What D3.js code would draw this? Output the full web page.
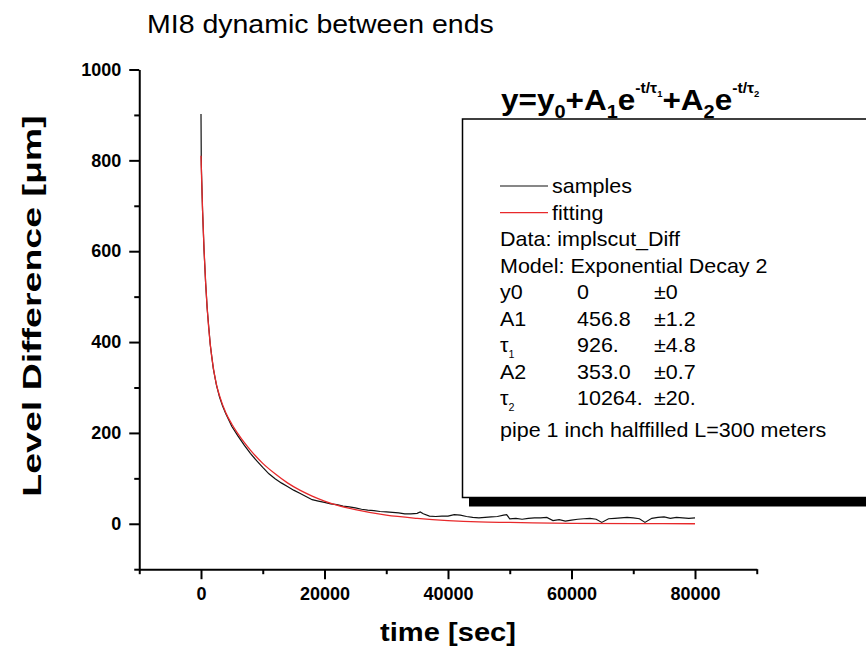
<!DOCTYPE html>
<html><head><meta charset="utf-8">
<script src="https://cdn.jsdelivr.net/npm/d3@7"></script>
<style>
body{margin:0;background:#fff}
svg{display:block}
text{font-family:"Liberation Sans",Arial,Helvetica,sans-serif}
</style>
</head><body>
<svg id="c" width="866" height="651"></svg>
<script>
// ---- data ----
const sampleTime = [
  0, 50, 250, 500, 750, 1000, 1500, 2000, 2500, 3000,
  3500, 4000, 5000, 6000, 7000, 8000, 9000, 10000, 11000, 12000,
  13000, 14000, 15000, 16000, 17000, 18000, 19000, 20000, 21000, 22000,
  23000, 24000, 25000, 26000, 27000, 28000, 29000, 30000, 31000, 32000,
  33000, 34000, 35000, 35500, 36000, 37000, 38000, 39000, 40000, 41000,
  42000, 43000, 44000, 45000, 46000, 47000, 48000, 49000, 49500, 50000,
  51000, 52000, 53000, 54000, 55000, 56000, 57000, 58000, 59000, 60000,
  61000, 62000, 63000, 64000, 64900, 66000, 67000, 68000, 69000, 70000,
  71000, 71900, 73000, 74000, 75000, 76000, 77000, 78000, 79000, 80000
];
const sampleLevel = [
  902, 790, 690, 600, 530, 474, 394, 341, 305, 279,
  259, 243, 214, 193, 173, 155, 139, 124, 110, 99,
  90, 82, 74, 67, 60, 53, 50, 47, 44, 42,
  39, 37, 35, 32, 30, 29, 27, 26, 25, 24,
  22, 22, 23, 26, 22, 17, 16, 17, 17, 20,
  19, 16, 14, 13, 14, 15, 16, 19, 20, 11,
  12, 10, 12, 13, 13, 14, 7, 9, 6, 8,
  10, 11, 12, 10, 3, 11, 12, 13, 14, 13,
  11, 3, 12, 14, 15, 12, 14, 13, 12, 13
];
const fitTime = [0, 100, 250, 500, 750, 1000, 1500, 2000, 2500, 3000, 4000, 5000, 6000, 7000, 8000,
  10000, 12000, 14000, 16000, 18000, 20000, 22000, 25000, 30000, 35000, 40000, 45000, 50000, 60000, 70000, 80000];
const fitLevel = [810, 760, 693, 602, 531, 475, 395, 343, 307, 282, 245, 219, 198, 179, 162,
  133, 110, 90, 74, 61, 50, 41, 31, 19, 12, 7, 4, 3, 1, 0.4, 0.1];

const xMajorTicks = [0, 20000, 40000, 60000, 80000];
const xMinorTicks = [-10000, 10000, 30000, 50000, 70000, 90000];
const yMajorTicks = [0, 200, 400, 600, 800, 1000];
const yMinorTicks = [-100, 100, 300, 500, 700, 900];

const legendSeries = ["samples", "fitting"];
const infoLines = ["Data: implscut_Diff", "Model: Exponential Decay 2"];
const paramNames = ["y0", "A1", "τ", "A2", "τ"];
const paramSubs = ["", "", "1", "", "2"];
const paramValues = ["0", "456.8", "926.", "353.0", "10264."];
const paramErrors = ["±0", "±1.2", "±4.8", "±0.7", "±20."];
const noteLine = "pipe 1 inch halffilled L=300 meters";

const titleText = "MI8 dynamic between ends";
const xLabel = "time [sec]";
const yLabel = "Level Difference [μm]";

// ---- drawing ----
const svg = d3.select("#c");
const x = d3.scaleLinear().domain([-10000, 90000]).range([139.25, 756.75]);
const y = d3.scaleLinear().domain([-100, 1000]).range([569.2, 69.5]);

const BLACK = "#111";
const RED = "#e8292b";

function stext(g, str, px, py, opts) {
  const t = g.append("text")
    .attr("transform", `translate(${px},${py}) rotate(${opts.rot || 0}) scale(${opts.sx || 1},1)`)
    .attr("font-size", opts.size)
    .attr("font-weight", opts.weight || "normal")
    .attr("text-anchor", opts.anchor || "start")
    .attr("fill", "#000")
    .text(str);
  return t;
}

// title
stext(svg, titleText, 147, 33, {size: 25, sx: 1.14});

// axes
const fmt = d3.format("d");
const yAx = svg.append("g").attr("transform", `translate(${x(-10000)},0)`)
  .call(d3.axisLeft(y).tickValues(yMajorTicks).tickFormat(fmt).tickSize(10).tickSizeOuter(0).tickPadding(8));
const yMin = svg.append("g").attr("transform", `translate(${x(-10000)},0)`)
  .call(d3.axisLeft(y).tickValues(yMinorTicks).tickSize(5).tickFormat(""));
yMin.select(".domain").remove();
const xAx = svg.append("g").attr("transform", `translate(0,${y(-100)})`)
  .call(d3.axisBottom(x).tickValues(xMajorTicks).tickFormat(fmt).tickSize(10).tickSizeOuter(0).tickPadding(8));
const xMin = svg.append("g").attr("transform", `translate(0,${y(-100)})`)
  .call(d3.axisBottom(x).tickValues(xMinorTicks).tickSize(5).tickFormat(""));
xMin.select(".domain").remove();

svg.selectAll(".domain").attr("stroke", "#000").attr("stroke-width", 2);
svg.selectAll(".tick line").attr("stroke", "#000").attr("stroke-width", 2);
svg.selectAll(".tick text").attr("font-size", 18).attr("font-weight", "bold")
  .attr("fill", "#000").attr("font-family", '"Liberation Sans",Arial,sans-serif');

// axis labels
stext(svg, xLabel, 448, 641, {size: 26, weight: "bold", anchor: "middle", sx: 1.12});
stext(svg, yLabel, 41, 306, {size: 25, weight: "bold", anchor: "middle", rot: -90, sx: 1.5});

// series
const line = d3.line().x(d => x(d[0])).y(d => y(d[1]));
const samples = sampleTime.map((t, i) => [t, sampleLevel[i]]);
const fit = fitTime.map((t, i) => [t, fitLevel[i]]);
svg.append("path").datum(samples).attr("d", line)
  .attr("fill", "none").attr("stroke", BLACK).attr("stroke-width", 1.2);
svg.append("path").datum(fit).attr("d", line.curve(d3.curveMonotoneX))
  .attr("fill", "none").attr("stroke", RED).attr("stroke-width", 1.3);

// formula
const ft = svg.append("text")
  .attr("transform", "translate(501,110) scale(1.05,1)")
  .attr("font-size", 30).attr("font-weight", "bold").attr("fill", "#000");
ft.append("tspan").text("y=y");
ft.append("tspan").attr("font-size", 19).attr("dy", 8).text("0");
ft.append("tspan").attr("dy", -8).text("+A");
ft.append("tspan").attr("font-size", 19).attr("dy", 8).text("1");
ft.append("tspan").attr("dy", -8).text("e");
ft.append("tspan").attr("font-size", 15).attr("dy", -17).text("-t/τ");
ft.append("tspan").attr("font-size", 9).attr("dy", 4).text("1");
ft.append("tspan").attr("dy", 13).text("+A");
ft.append("tspan").attr("font-size", 19).attr("dy", 8).text("2");
ft.append("tspan").attr("dy", -8).text("e");
ft.append("tspan").attr("font-size", 15).attr("dy", -17).text("-t/τ");
ft.append("tspan").attr("font-size", 9).attr("dy", 4).text("2");

// legend box
svg.append("rect").attr("x", 469).attr("y", 498).attr("width", 420).attr("height", 8.5).attr("fill", "#000");
svg.append("rect").attr("x", 462.5).attr("y", 119).attr("width", 420).attr("height", 378.5)
  .attr("fill", "#fff").attr("stroke", "#000").attr("stroke-width", 1.5);

const LS = 20, LSX = 1.075;
const lg = svg.append("g");
const colors = [BLACK, RED];
legendSeries.forEach((name, i) => {
  const yy = 186 + i * 26.7;
  lg.append("line").attr("x1", 500).attr("x2", 548).attr("y1", yy).attr("y2", yy)
    .attr("stroke", colors[i]).attr("stroke-width", 1.2);
  stext(lg, name, 552, yy + 7, {size: LS, sx: LSX});
});
infoLines.forEach((s, i) => stext(lg, s, 500, 246 + i * 26.6, {size: LS, sx: LSX}));
paramNames.forEach((n, i) => {
  const yy = 299 + i * 26.6;
  const t = stext(lg, n, 500, yy, {size: LS, sx: LSX});
  if (paramSubs[i]) {
    t.text(null);
    t.append("tspan").text(n);
    t.append("tspan").attr("font-size", 10).attr("dy", 6).text(paramSubs[i]);
  }
  stext(lg, paramValues[i], 577, yy, {size: LS, sx: LSX});
  stext(lg, paramErrors[i], 654, yy, {size: LS, sx: LSX});
});
stext(lg, noteLine, 500, 437, {size: LS, sx: LSX});
</script>
</body></html>
